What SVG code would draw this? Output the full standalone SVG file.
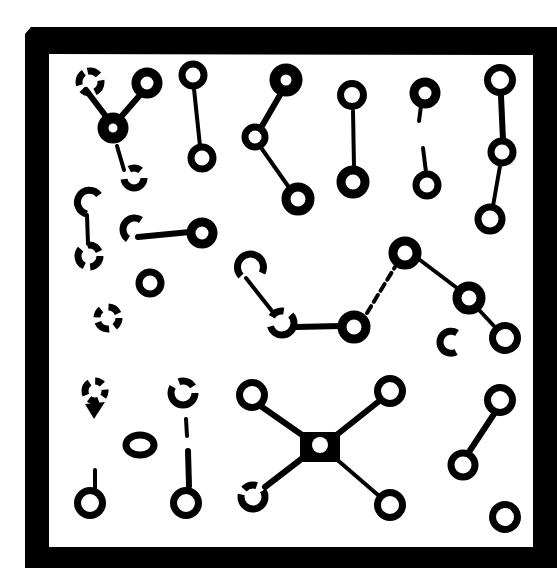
<svg xmlns="http://www.w3.org/2000/svg" width="557" height="568" viewBox="0 0 557 568">
<style>
.ring{fill:none;stroke:#000;stroke-width:7}
.thk{stroke-width:9}
.xthk{stroke-width:11}
.bond{fill:none;stroke:#000;stroke-width:4;stroke-linecap:round}
.wide{stroke-width:6}
.blk{fill:#000}
</style>
<rect width="557" height="568" fill="#fff"/>
<path id="frame" class="blk" fill-rule="evenodd" d="M31 27 H557 V568 H25 V34 Z M49 54 V547 H533 V55 Z"/>
<g id="connectors">
<line class="bond wide" x1="86" y1="90" x2="108" y2="119"/>
<line class="bond wide" x1="140" y1="95" x2="120" y2="118"/>
<line class="bond" x1="117" y1="146" x2="124" y2="170"/>
<line class="bond" x1="194" y1="89" x2="200" y2="146"/>
<line class="bond wide" x1="280" y1="95" x2="262" y2="126"/>
<line class="bond" x1="262" y1="149" x2="288" y2="186"/>
<line class="bond" x1="353" y1="111" x2="354" y2="166"/>
<line class="bond" x1="421" y1="106" x2="419" y2="121"/>
<line class="bond" x1="423" y1="148" x2="426" y2="172"/>
<line class="bond wide" x1="501" y1="96" x2="503" y2="140"/>
<line class="bond" x1="500" y1="166" x2="493" y2="206"/>
<line class="bond" x1="87" y1="215" x2="88" y2="244"/>
<line class="bond wide" x1="138" y1="237" x2="190" y2="232"/>
<line class="bond" x1="246" y1="278" x2="272" y2="311"/>
<line class="bond wide" x1="296" y1="327" x2="341" y2="326"/>
<line class="bond" x1="367" y1="313" x2="395" y2="267" stroke-dasharray="8 5"/>
<line class="bond" x1="420" y1="260" x2="457" y2="288"/>
<line class="bond" x1="480" y1="311" x2="494" y2="326"/>
<line class="bond" x1="95" y1="470" x2="95" y2="490"/>
<line class="bond" x1="186" y1="419" x2="187" y2="436"/>
<line class="bond wide" x1="188" y1="451" x2="189" y2="486"/>
<line class="bond wide" x1="262" y1="407" x2="305" y2="437"/>
<line class="bond wide" x1="378" y1="402" x2="334" y2="437"/>
<line class="bond wide" x1="265" y1="487" x2="304" y2="457"/>
<line class="bond" x1="378" y1="495" x2="334" y2="457"/>
<line class="bond wide" x1="494" y1="414" x2="469" y2="452"/>
</g>
<g id="n1"><circle class="ring" cx="90" cy="82" r="11" stroke-dasharray="12 6 8 5 14 4"/></g>
<g id="n2"><circle class="ring thk" cx="147" cy="83" r="11"/></g>
<g id="n3"><circle class="ring xthk" cx="113" cy="128" r="10"/></g>
<g id="n4"><circle class="ring" cx="134" cy="178" r="10" stroke-dasharray="30 12 12 9"/></g>
<g id="n5"><circle class="ring" cx="193" cy="75" r="11"/></g>
<g id="n6"><circle class="ring" cx="202" cy="158" r="11"/></g>
<g id="n7"><circle class="ring xthk" cx="286" cy="80" r="11"/></g>
<g id="n8"><circle class="ring" cx="255" cy="137" r="10"/></g>
<g id="n9"><circle class="ring thk" cx="298" cy="199" r="12"/></g>
<g id="n10"><circle class="ring" cx="352" cy="95" r="11.5"/></g>
<g id="n11"><circle class="ring thk" cx="353" cy="182" r="12"/></g>
<g id="n12"><circle class="ring thk" cx="425" cy="93" r="11"/></g>
<g id="n13"><circle class="ring" cx="427" cy="185" r="11"/></g>
<g id="n14"><circle class="ring" cx="500" cy="80" r="12.5"/></g>
<g id="n15"><circle class="ring" cx="502" cy="152" r="11"/></g>
<g id="n16"><circle class="ring" cx="490" cy="219" r="12"/></g>
<g id="n17"><path class="ring" d="M99 195 A12 12 0 1 0 87 214"/></g>
<g id="n18"><circle class="ring" cx="89" cy="256" r="11" stroke-dasharray="16 6 20 8 14 6"/></g>
<g id="n19"><path class="ring" d="M141 220 A11 11 0 1 0 128 239"/></g>
<g id="n20"><circle class="ring thk" cx="202" cy="233" r="11"/></g>
<g id="n21"><circle class="ring" cx="150" cy="283" r="11"/></g>
<g id="n22"><path class="ring" d="M241 276 A13 13 0 1 1 262 273"/></g>
<g id="n23"><circle class="ring" cx="108" cy="318" r="11" stroke-dasharray="10 6 14 5 9 8 12 5"/></g>
<g id="n24"><circle class="ring" cx="282" cy="323" r="12" stroke-dasharray="34 10 14 8 9 4"/></g>
<g id="n25"><circle class="ring thk" cx="354" cy="327" r="12"/></g>
<g id="n26"><circle class="ring thk" cx="405" cy="253" r="12"/></g>
<g id="n27"><circle class="ring thk" cx="469" cy="298" r="12"/></g>
<g id="n28"><circle class="ring" cx="505" cy="338" r="12.5"/></g>
<g id="n29"><path class="ring" d="M457 333 A11 11 0 1 0 456 352"/></g>
<g id="n30"><circle class="ring" cx="95" cy="391" r="10" stroke-dasharray="6 6 10 5 14 6 8 6"/><path class="blk" d="M85 404 L105 402 L94 419 Z"/></g>
<g id="n31"><ellipse class="ring" cx="140" cy="445" rx="14" ry="10"/></g>
<g id="n32"><circle class="ring" cx="90" cy="503" r="12.5"/></g>
<g id="n33"><circle class="ring" cx="183" cy="393" r="12" stroke-dasharray="44 8 16 8"/></g>
<g id="n34"><circle class="ring" cx="186" cy="503" r="12.5"/></g>
<g id="n35"><circle class="ring" cx="252" cy="395" r="12.5"/></g>
<g id="n36"><rect class="blk" x="300" y="432" width="40" height="30" rx="4"/><circle cx="320" cy="445" r="8" fill="#fff"/></g>
<g id="n37"><circle class="ring" cx="390" cy="391" r="12.5"/></g>
<g id="n38"><circle class="ring" cx="253" cy="497" r="12" stroke-dasharray="40 6 14 8 8 4"/></g>
<g id="n39"><circle class="ring" cx="390" cy="505" r="12.5"/></g>
<g id="n40"><circle class="ring" cx="500" cy="400" r="12.5"/></g>
<g id="n41"><circle class="ring" cx="463" cy="465" r="12"/></g>
<g id="n42"><circle class="ring" cx="505" cy="517" r="12.5" stroke-width="9"/></g>
</svg>
